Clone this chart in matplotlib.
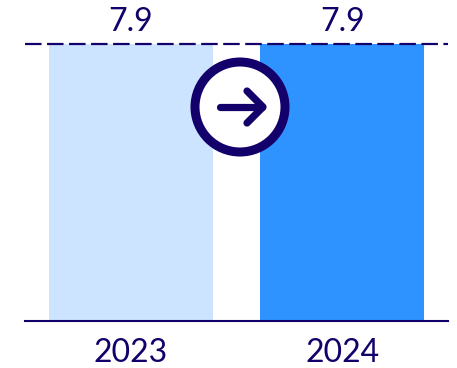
import matplotlib
matplotlib.use("Agg")
import matplotlib.pyplot as plt
from matplotlib.patches import Circle

categories = ["2023", "2024"]
values = [7.9, 7.9]
value_labels = ["7.9", "7.9"]
bar_colors = ["#cce4ff", "#2e93ff"]
NAVY = "#14006b"
W, H = 457, 368

plt.rcParams["font.family"] = ["Lato", "DejaVu Sans"]
fig = plt.figure(figsize=(W / 100, H / 100), dpi=100, facecolor="white")
ax = fig.add_axes([25 / W, 1 - 321 / H, 423 / W, 277 / H])
x = list(range(len(categories)))
ax.bar(x, values, width=0.775, color=bar_colors, linewidth=0, zorder=1)
ax.set_xlim(-0.5, 1.5)
ax.set_ylim(0, 7.9)
ax.set_yticks([])
ax.set_xticks(x, categories, fontsize=23, color=NAVY)
ax.tick_params(axis="x", length=0, pad=12)
for s in ["top", "left", "right"]:
    ax.spines[s].set_visible(False)
ax.spines["bottom"].set_color(NAVY)
ax.spines["bottom"].set_linewidth(1.5)
ax.axhline(7.9, color=NAVY, linewidth=1.6, dashes=(16.5 / 2.22, 5.5 / 2.22), zorder=3, clip_on=False)
for xi, v, lab in zip(x, values, value_labels):
    ax.annotate(lab, (xi, v), xytext=(0, 5), textcoords="offset points", ha="center", va="bottom",
                fontsize=23, color=NAVY)

ov = fig.add_axes([0, 0, 1, 1], facecolor="none")
ov.set_xlim(0, W)
ov.set_ylim(H, 0)
ov.axis("off")
ov.add_patch(Circle((240, 107), 45, facecolor="white", edgecolor=NAVY, linewidth=6.5))
ov.plot([220, 262], [107, 107], color=NAVY, lw=5.2, solid_capstyle="round")
ov.plot([247, 263, 247], [91, 107, 123], color=NAVY, lw=5.2, solid_capstyle="round", solid_joinstyle="round")
fig.savefig("out.png", dpi=100)
